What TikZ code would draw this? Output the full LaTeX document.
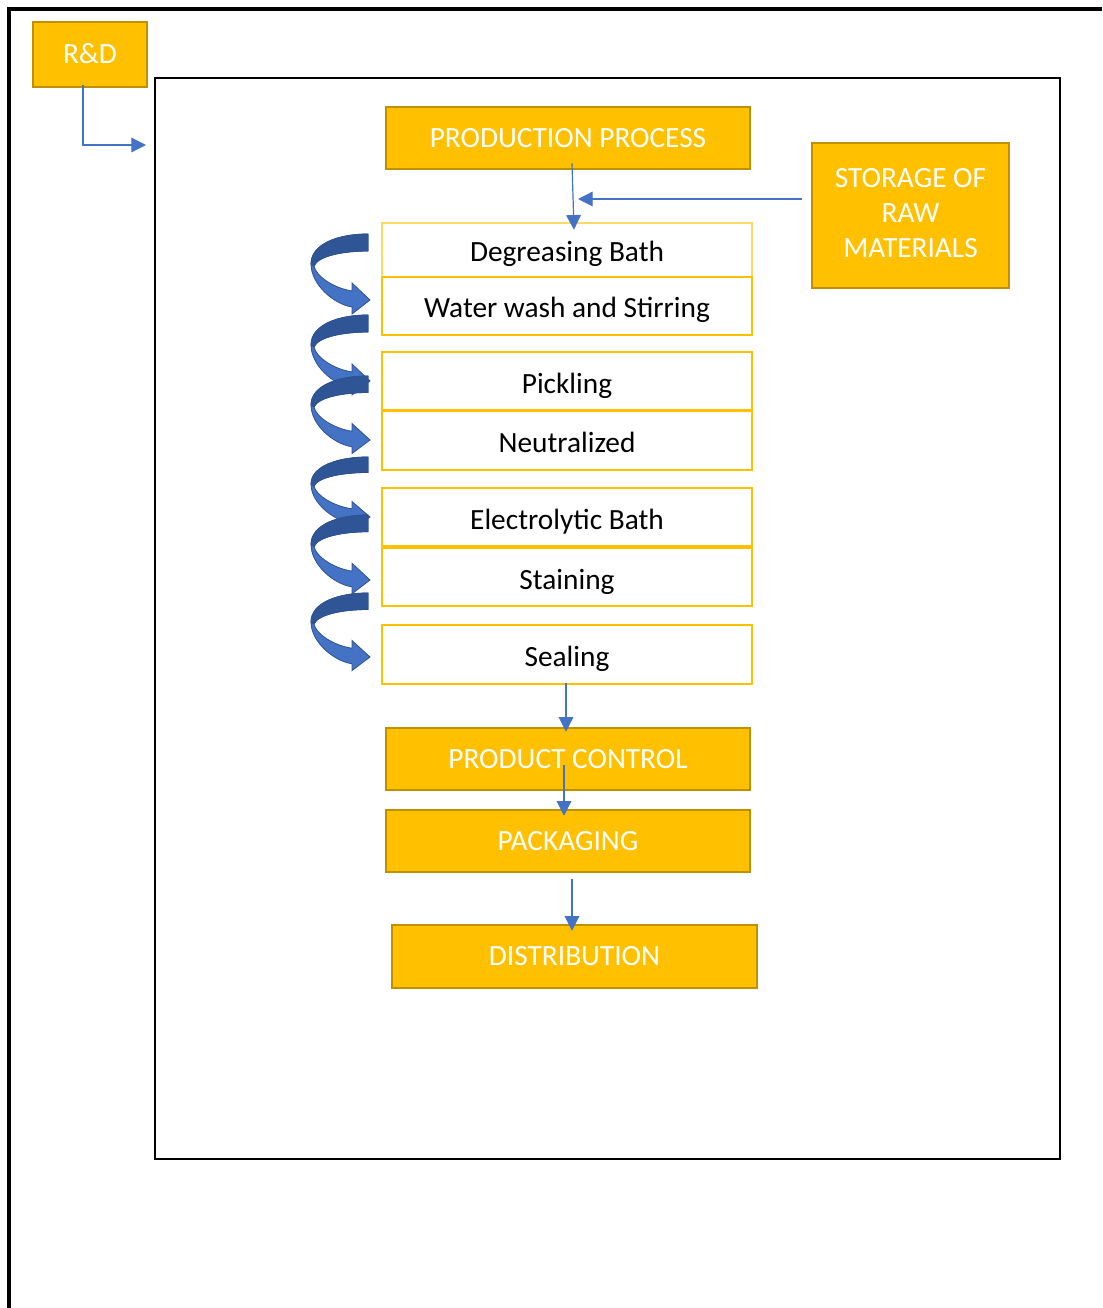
\documentclass[tikz,border=0pt]{standalone}
\usepackage{fontspec}
\setmainfont{Carlito}
\usetikzlibrary{arrows.meta,calc}
\definecolor{gold}{HTML}{FFC000}
\definecolor{golddark}{HTML}{BF9000}
\definecolor{palegold}{HTML}{FFD966}
\definecolor{flow}{HTML}{4472C4}
\definecolor{ribbonback}{HTML}{2F5597}
\definecolor{ribbonedge}{HTML}{2F528F}

\begin{document}
\begin{tikzpicture}[x=0.75pt,y=-0.75pt,
  every node/.style={font=\fontsize{22}{26.25}\selectfont, inner sep=0pt},
  hdrbox/.style={draw=golddark, fill=gold, line width=1.9pt, text=white, align=center},
  hdr/.style={hdrbox, text height=15pt, text depth=1pt},
  stage/.style={draw=gold, fill=white, line width=1.9pt, text=black,
                minimum width=370*0.75pt, text height=18pt, text depth=0pt},
  conn/.style={draw=flow, line width=0.9pt, -{Triangle[length=11pt,width=11pt]}},
  frame/.style={draw=black, line width=2.1pt}]

\useasboundingbox (0,0) rectangle (1102,1308);

% page frames
\draw[frame, line width=2.3pt] (1102,9) -- (9,9) -- (9,1308);
\draw[frame] (155,78) rectangle (1060,1159);

% header boxes
\node[hdr, minimum width=114*0.75pt, minimum height=65*0.75pt] (rd) at (90,54.5) {R\&D};
\node[hdr, minimum width=364*0.75pt, minimum height=62*0.75pt] (pp) at (568,138) {PRODUCTION PROCESS};
\node[hdrbox, minimum width=197*0.75pt, minimum height=145*0.75pt] (store) at (910.5,215.5)
  {STORAGE OF\\RAW\\MATERIALS\rule[-4.5pt]{0pt}{0pt}};

% process stages
\node[stage, draw=palegold, minimum height=54*0.75pt] (degr) at (567,250) {Degreasing Bath};
\node[stage, minimum height=58*0.75pt] (wash) at (567,306) {Water wash and Stirring};
\node[stage, minimum height=58*0.75pt] (pick) at (567,381) {Pickling};
\node[stage, minimum height=59*0.75pt] (neut) at (567,440.5) {Neutralized};
\node[stage, minimum height=58*0.75pt] (elec) at (567,517) {Electrolytic Bath};
\node[stage, minimum height=58*0.75pt] (stain) at (567,577) {Staining};
\node[stage, minimum height=59*0.75pt] (seal) at (567,654.5) {Sealing};

% output boxes
\node[hdr, minimum width=364*0.75pt, minimum height=62*0.75pt] (pc) at (568,759) {PRODUCT CONTROL};
\node[hdr, minimum width=364*0.75pt, minimum height=62*0.75pt] (pack) at (568,841) {PACKAGING};
\node[hdr, minimum width=365*0.75pt, minimum height=63*0.75pt] (dist) at (574.5,956.5) {DISTRIBUTION};

% curved ribbon arrows between the stages
\foreach \ya/\hh in {234/66, 315/66, 376/64, 457/60, 515/65, 593/64} {
  \begin{scope}[shift={(368,\ya)}, yscale=\hh/66]
    \fill[flow, draw=ribbonedge, line width=0.6pt]
      (0,0) .. controls (-30,0) and (-57,10) .. (-57,30)
      .. controls (-57,50) and (-35,70) .. (-16,73)
      -- (-16,80) -- (2,66) -- (-16,49) -- (-16,57)
      .. controls (-35,54) and (-52,42) .. (-54,32)
      .. controls (-50,22) and (-25,17) .. (0,17) -- cycle;
    \fill[ribbonback, draw=ribbonedge, line width=0.6pt]
      (0,0) .. controls (-30,0) and (-57,10) .. (-57,30)
      -- (-54,32) .. controls (-50,22) and (-25,17) .. (0,17) -- cycle;
  \end{scope}
}

% connectors
\coordinate (rdin) at (146,145);
\coordinate (storein) at (578,199);
\draw[conn] ([shift={(-7,-3)}]rd.south) |- (rdin);
\draw[conn] ([shift={(4,-7)}]pp.south) -- ([shift={(7,8)}]degr.north);
\draw[conn] ([shift={(-9,-16.5)}]store.west) -- (storein);
\draw[conn] ([shift={(-1,-2)}]seal.south) -- ([shift={(-2,5)}]pc.north);
\draw[conn] ([shift={(-4,6)}]pc.center) -- ([shift={(-4,7)}]pack.north);
\draw[conn] ([shift={(4,6)}]pack.south) -- ([shift={(-2.5,7)}]dist.north);

\end{tikzpicture}
\end{document}
